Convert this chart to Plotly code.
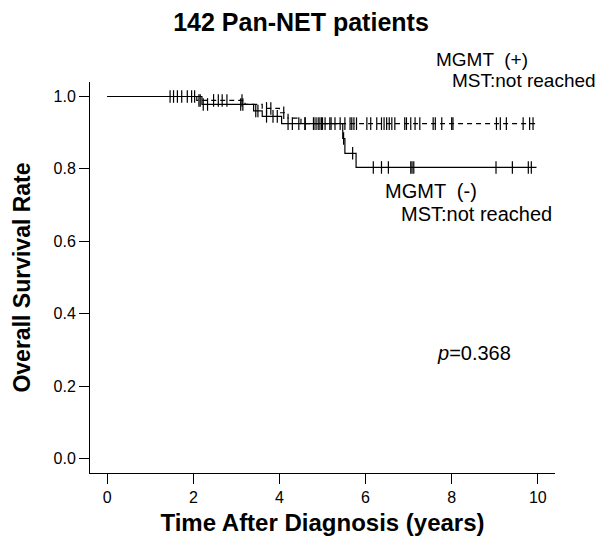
import numpy as np
import plotly.graph_objects as go

# ---- data ----
plus_times = [0.0, 2.08, 3.20, 3.60, 4.00, 4.20, 4.50, 9.97]
plus_surv = [1.000, 0.989, 0.978, 0.967, 0.955, 0.940, 0.925, 0.925]
plus_censor = [1.46, 1.54, 1.63, 1.73, 1.86, 1.96, 2.03,
               2.13, 2.16, 2.47, 2.58, 2.67, 2.78, 3.13,
               3.70, 3.80, 4.10,
               4.59, 4.79, 4.85, 4.90, 4.94, 4.98, 5.06, 5.17, 5.29, 5.41,
               5.52, 5.64, 5.68, 5.73, 5.79, 6.03, 6.12, 6.26, 6.37, 6.43,
               6.49, 6.55, 6.61, 6.68, 6.91, 6.95, 7.05, 7.15, 7.26, 7.57,
               7.62, 7.77, 8.00, 8.03, 9.04, 9.13, 9.27, 9.66, 9.81, 9.89]

minus_times = [0.0, 2.20, 3.40, 3.60, 4.05, 5.47, 5.52, 5.78, 9.97]
minus_surv = [1.000, 0.978, 0.960, 0.945, 0.925, 0.884, 0.843, 0.804, 0.804]
minus_censor = [2.23, 2.33, 3.10, 3.15, 3.45, 3.50, 3.70, 3.85, 3.95,
                4.20, 4.30, 4.45, 4.60, 4.80, 5.00, 5.20, 5.49, 5.70,
                6.18, 6.37, 6.53, 7.05, 7.08, 7.12, 9.03, 9.41, 9.78, 9.85]

x_ticks = [0, 2, 4, 6, 8, 10]
y_ticks = [0.0, 0.2, 0.4, 0.6, 0.8, 1.0]
y_tick_labels = ["0.0", "0.2", "0.4", "0.6", "0.8", "1.0"]


def surv_at(times, surv, t):
    idx = np.searchsorted(np.array(times), np.array(t), side="right") - 1
    return [surv[i] for i in idx]


FONT = "Liberation Sans, Arial, sans-serif"
fig = go.Figure()

fig.add_trace(go.Scatter(x=plus_times, y=plus_surv, mode="lines",
                         line=dict(shape="hv", color="black", width=1.2, dash="5px,4px"),
                         hoverinfo="skip", showlegend=False))
fig.add_trace(go.Scatter(x=minus_times, y=minus_surv, mode="lines",
                         line=dict(shape="hv", color="black", width=1.2),
                         hoverinfo="skip", showlegend=False))
for ct, tt, ss in [(plus_censor, plus_times, plus_surv), (minus_censor, minus_times, minus_surv)]:
    fig.add_trace(go.Scatter(x=ct, y=surv_at(tt, ss, ct), mode="markers",
                             marker=dict(symbol="line-ns-open", size=9, color="black",
                                         line=dict(color="black", width=1.2)),
                             hoverinfo="skip", showlegend=False))

axis_common = dict(showgrid=False, zeroline=False, showline=True, linecolor="black",
                   linewidth=1, ticks="outside", ticklen=10, tickwidth=1, tickcolor="black",
                   tickfont=dict(family=FONT, size=16, color="black"), mirror=False,
                   automargin=False)

fig.update_xaxes(range=[-0.4, 10.4], tickvals=x_ticks, ticktext=[str(v) for v in x_ticks],
                 title=dict(text="<b>Time After Diagnosis (years)</b>",
                            font=dict(family=FONT, size=24, color="black"), standoff=8),
                 **axis_common)
fig.update_yaxes(range=[-0.04, 1.04], tickvals=y_ticks, ticktext=y_tick_labels,
                 title=dict(text="<b>Overall Survival Rate</b>",
                            font=dict(family=FONT, size=23, color="black"), standoff=16),
                 **axis_common)

# The page body adds an 8px offset, so the figure is laid out 8px smaller
OFF = 8
FW, FH = 609 - OFF, 540 - OFF
L, T, W, H = 90 - OFF, 81.5 - OFF, 465.5, 392
annotations = [
    dict(x=434, y=59, text="MGMT  (+)", size=19),
    dict(x=450, y=80, text="MST:not reached", size=19),
    dict(x=383, y=191, text="MGMT  (-)", size=20),
    dict(x=399, y=214, text="MST:not reached", size=20),
    dict(x=435, y=353, text="<i>p</i>=0.368", size=20),
]
fig.update_layout(
    annotations=[dict(xref="paper", yref="paper",
                      x=(a["x"] - OFF - L) / W, y=1 - (a["y"] - OFF - T) / H,
                      xanchor="left", yanchor="middle", showarrow=False,
                      text=a["text"],
                      font=dict(family=FONT, size=a["size"], color="black"))
                 for a in annotations],
    title=dict(text="<b>142 Pan-NET patients</b>", x=(301 - OFF) / FW, xanchor="center",
               y=1 - (22 - OFF) / FH, yanchor="middle", xref="container", yref="container",
               font=dict(family=FONT, size=25, color="black")),
    width=FW, height=FH,
    margin=dict(l=L, r=FW - L - W, t=T, b=FH - T - H),
    paper_bgcolor="white", plot_bgcolor="white",
)

fig.write_html("out.html")
